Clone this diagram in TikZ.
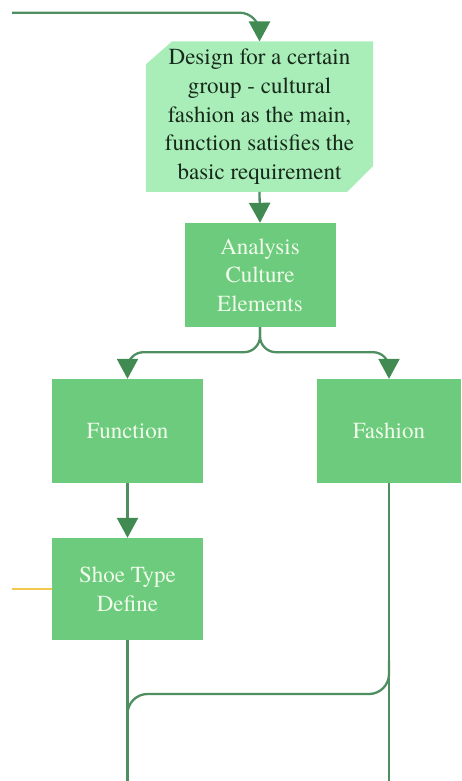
\documentclass[tikz,border=0pt]{standalone}
\usepackage{fontspec}
\newfontfamily\labelfont{texgyretermes-regular.otf}
\usetikzlibrary{arrows.meta,backgrounds,calc}
\definecolor{boxgreen}{HTML}{6CCB7C}
\definecolor{palegreen}{HTML}{A9EEB9}
\definecolor{linegreen}{HTML}{4F8E60}
\definecolor{tipgreen}{HTML}{418A51}
\definecolor{boxtext}{HTML}{F1FCEC}
\definecolor{darktext}{HTML}{17291A}
\definecolor{goldline}{HTML}{F2C94C}
\begin{document}
\begin{tikzpicture}[x=1pt,y=-1pt,
  stepbox/.style={rectangle, fill=boxgreen, text=boxtext, align=center,
    minimum width=151pt, minimum height=104pt, inner sep=0pt,
    font=\labelfont\fontsize{23}{28.7}\selectfont},
  flow/.style={draw=linegreen, line width=2.3pt,
    -{Triangle[length=20pt,width=21pt,fill=tipgreen,color=tipgreen]}},
  link/.style={draw=linegreen, line width=2.3pt}]
\useasboundingbox (0,0) rectangle (461,781);

% goal statement with chamfered corners
\node[align=center, text=darktext, minimum width=227pt, minimum height=150pt,
  inner sep=0pt, font=\labelfont\fontsize{23}{28.7}\selectfont] (design) at (259.5,116.7)
  {Design for a certain\\ group - cultural\\ fashion as the main,\\ function satisfies the\\ basic requirement};
\begin{scope}[on background layer]
  \fill[palegreen] ($(design.north west)+(26,0)$) -- (design.north east)
    -- ($(design.south east)+(0,-26)$) -- ($(design.south east)+(-26,0)$)
    -- (design.south west) -- ($(design.north west)+(0,23)$) -- cycle;
\end{scope}

\node[stepbox] (analysis) at (260,275) {Analysis\\ Culture\\ Elements};
\node[stepbox] (function) at (127.5,431) {Function};
\node[stepbox, minimum width=144pt] (fashion) at (389,431) {Fashion};
\node[stepbox, minimum height=102pt] (shoe) at (127.5,589) {Shoe Type\\ Define};

% free ends of connectors
\coordinate (in) at (12,12.7);
\coordinate (side) at (12,589);
\coordinate (floor) at (0,781);
\coordinate (joinY) at (0,694);
\coordinate (bendY) at (0,660);
\coordinate (dropY) at (0,730);

\draw[flow, rounded corners=20pt] (in) -- (in -| design.north) -- (design.north);
\draw[flow] (design.south) -- (analysis.north);
\draw[flow, rounded corners=16pt] (analysis.south) -- ++(0,25) -| (function.north);
\draw[flow, rounded corners=16pt] (analysis.south) -- ++(0,25) -| (fashion.north);
\draw[flow] (function.south) -- (shoe.north);
\draw[draw=goldline, line width=1.8pt] (side) -- (shoe.west);

\draw[link] (shoe.south) -- (shoe.south |- floor);
\draw[link] (fashion.south) -- (fashion.south |- floor);
\draw[link, rounded corners=20pt] (fashion.south |- bendY) -- (fashion.south |- joinY)
  -- (shoe.south |- joinY) -- (shoe.south |- dropY);
\end{tikzpicture}
\end{document}
